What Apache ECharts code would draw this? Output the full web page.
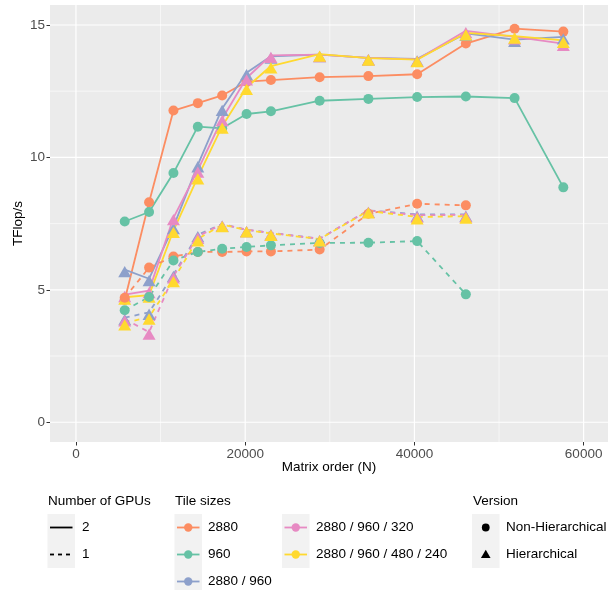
<!DOCTYPE html>
<html><head><meta charset="utf-8">
<script src="https://cdn.jsdelivr.net/npm/echarts@6/dist/echarts.min.js"></script>
<style>html,body{margin:0;padding:0;background:#fff}#c{width:613px;height:590px}</style>
</head><body><div id="c"></div>
<script>
// ---- data ----
const matrixOrder = [5760, 8640, 11520, 14400, 17280, 20160, 23040, 28800, 34560, 40320, 46080, 51840, 57600];
const tileSizes = ['2880', '960', '2880 / 960', '2880 / 960 / 320', '2880 / 960 / 480 / 240'];
const tileVersion = ['Non-Hierarchical', 'Non-Hierarchical', 'Hierarchical', 'Hierarchical', 'Hierarchical'];
const gpuCounts = ['2', '1'];
const versions = ['Non-Hierarchical', 'Hierarchical'];

// 2 GPUs (solid)
const gpu2_t2880 = [4.62, 8.31, 11.77, 12.05, 12.34, 12.86, 12.92, 13.03, 13.07, 13.14, 14.30, 14.86, 14.75];
const gpu2_t960 = [7.58, 7.94, 9.41, 11.16, 11.10, 11.64, 11.74, 12.14, 12.21, 12.28, 12.30, 12.24, 8.87];
const gpu2_t2880_960 = [5.76, 5.42, 7.38, 9.72, 11.85, 13.20, 13.82, 13.88, 13.76, 13.72, 14.68, 14.45, 14.55];
const gpu2_t2880_960_320 = [4.82, 4.97, 7.72, 9.52, 11.46, 13.00, 13.85, 13.88, 13.76, 13.70, 14.78, 14.55, 14.30];
const gpu2_t2880_960_480_240 = [4.72, 4.80, 7.24, 9.26, 11.18, 12.64, 13.45, 13.90, 13.75, 13.69, 14.70, 14.58, 14.42];

// 1 GPU (dashed)
const gpu1_t2880 = [4.70, 5.84, 6.26, 6.43, 6.43, 6.45, 6.45, 6.52, 7.87, 8.25, 8.19];
const gpu1_t960 = [4.23, 4.73, 6.11, 6.43, 6.55, 6.62, 6.68, 6.77, 6.78, 6.84, 4.83];
const gpu1_t2880_960 = [3.95, 4.15, 5.58, 7.08, 7.48, 7.27, 7.15, 6.93, 8.00, 7.85, 7.85];
const gpu1_t2880_960_320 = [3.90, 3.40, 5.52, 7.02, 7.48, 7.27, 7.15, 6.93, 8.00, 7.82, 7.83];
const gpu1_t2880_960_480_240 = [3.75, 3.97, 5.38, 6.92, 7.46, 7.26, 7.13, 6.92, 7.98, 7.75, 7.78];

const xTicks = [0, 20000, 40000, 60000];
const xMinorTicks = [10000, 30000, 50000];
const yTicks = [0, 5, 10, 15];
const yMinorTicks = [2.5, 7.5, 12.5];

// ---- styling ----
const tileColors = ['#FC8D62', '#66C2A5', '#8DA0CB', '#E78AC3', '#FFD92F'];
const FONT = '"Liberation Sans", Arial, sans-serif';
const X_MIN = -3070, X_MAX = 62880, Y_MIN = -0.745, Y_MAX = 15.755;

const gpu2 = [gpu2_t2880, gpu2_t960, gpu2_t2880_960, gpu2_t2880_960_320, gpu2_t2880_960_480_240];
const gpu1 = [gpu1_t2880, gpu1_t960, gpu1_t2880_960, gpu1_t2880_960_320, gpu1_t2880_960_480_240];

const series = [];
// grid lines as line series
function gridLine(axis, v, w) {
  const data = axis === 'x' ? [[v, Y_MIN], [v, Y_MAX]] : [[X_MIN, v], [X_MAX, v]];
  series.push({ type: 'line', data, showSymbol: false, silent: true, z: 1,
    lineStyle: { color: '#FFFFFF', width: w }, animation: false });
}
xMinorTicks.forEach(v => gridLine('x', v, 0.6));
yMinorTicks.forEach(v => gridLine('y', v, 0.6));
xTicks.forEach(v => gridLine('x', v, 1.2));
yTicks.forEach(v => gridLine('y', v, 1.2));

function pts(vals) { return vals.map((v, i) => [matrixOrder[i], v]); }
const sets = [[gpu2, 'solid'], [gpu1, [5, 5]]];
// lines first (below all points)
sets.forEach(([grp, dash]) => {
  grp.forEach((vals, t) => {
    series.push({ type: 'line', data: pts(vals), showSymbol: false, z: 2, animation: false,
      lineStyle: { color: tileColors[t], width: 1.8, type: dash } });
  });
});
// points
sets.forEach(([grp]) => {
  grp.forEach((vals, t) => {
    const tri = tileVersion[t] === 'Hierarchical';
    series.push({ type: 'scatter', data: pts(vals), z: 3, animation: false,
      symbol: tri ? 'triangle' : 'circle',
      symbolSize: tri ? [13, 11.3] : 10,
      symbolOffset: tri ? [0, 1.9] : [0, 0],
      itemStyle: { color: tileColors[t], opacity: 1 } });
  });
});

// ---- legend (drawn) ----
const g = [];
const KW = 27.5, KH = 27, KTOP = 514;
function text(x, y, s, size) {
  g.push({ type: 'text', style: { x, y, text: s, fill: '#000', font: (size || 13.5) + 'px ' + FONT, verticalAlign: 'middle', align: 'left' } });
}
function keyBox(x, n) {
  g.push({ type: 'rect', shape: { x, y: KTOP, width: KW, height: KH * n }, style: { fill: '#F2F2F2' } });
}
const rowY = i => KTOP + KH * i + KH / 2;
// Number of GPUs
text(48, 501, 'Number of GPUs');
keyBox(47.5, 2);
gpuCounts.forEach((c, i) => {
  g.push({ type: 'line', shape: { x1: 50, y1: rowY(i), x2: 72.5, y2: rowY(i) },
    style: { stroke: '#000', lineWidth: 1.8, lineDash: i === 0 ? null : [4, 4] } });
  text(82, rowY(i), c);
});
// Tile sizes
text(175, 501, 'Tile sizes');
const tileCols = [[174.5, 208, [0, 1, 2]], [282, 316, [3, 4]]];
tileCols.forEach(([kx, tx, idx]) => {
  keyBox(kx, idx.length);
  idx.forEach((t, r) => {
    const y = rowY(r);
    g.push({ type: 'line', shape: { x1: kx + 2.5, y1: y, x2: kx + 25, y2: y }, style: { stroke: tileColors[t], lineWidth: 1.8 } });
    g.push({ type: 'circle', shape: { cx: kx + KW / 2, cy: y, r: 4.2 }, style: { fill: tileColors[t] } });
    text(tx, y, tileSizes[t]);
  });
});
// Version
text(473, 501, 'Version');
keyBox(472, 2);
versions.forEach((v, i) => {
  const cx = 472 + KW / 2, y = rowY(i);
  if (v === 'Hierarchical') {
    g.push({ type: 'polygon', shape: { points: [[cx, y - 4.8], [cx + 4.8, y + 3.4], [cx - 4.8, y + 3.4]] }, style: { fill: '#000' } });
  } else {
    g.push({ type: 'circle', shape: { cx, cy: y, r: 3.9 }, style: { fill: '#000' } });
  }
  text(506, y, v);
});

const chart = echarts.init(document.getElementById('c'), null, { renderer: 'canvas' });
chart.setOption({
  animation: false,
  backgroundColor: '#FFFFFF',
  grid: { left: 50, top: 5, right: 5, bottom: 148, show: true, backgroundColor: '#EBEBEB', borderWidth: 0, containLabel: false },
  xAxis: {
    type: 'value', min: X_MIN, max: X_MAX, position: 'bottom',
    name: 'Matrix order (N)', nameLocation: 'middle', nameGap: 18, nameMoveOverlap: false,
    nameTextStyle: { color: '#000', fontSize: 13.5, fontFamily: FONT },
    axisLine: { show: false, onZero: false },
    axisTick: { show: true, length: 3.5, lineStyle: { color: '#333333', width: 1 }, customValues: xTicks },
    axisLabel: { color: '#4D4D4D', fontSize: 13.5, fontFamily: FONT, margin: 5, customValues: xTicks, formatter: v => String(v) },
    splitLine: { show: false }
  },
  yAxis: {
    type: 'value', min: Y_MIN, max: Y_MAX, position: 'left',
    name: 'TFlop/s', nameLocation: 'middle', nameGap: 25, nameRotate: 90, nameMoveOverlap: false,
    nameTextStyle: { color: '#000', fontSize: 13.5, fontFamily: FONT },
    axisLine: { show: false, onZero: false },
    axisTick: { show: true, length: 3.5, lineStyle: { color: '#333333', width: 1 }, customValues: yTicks },
    axisLabel: { color: '#4D4D4D', fontSize: 13.5, fontFamily: FONT, margin: 5, customValues: yTicks, formatter: v => String(v) },
    splitLine: { show: false }
  },
  series,
  graphic: g
});
</script>
</body></html>
